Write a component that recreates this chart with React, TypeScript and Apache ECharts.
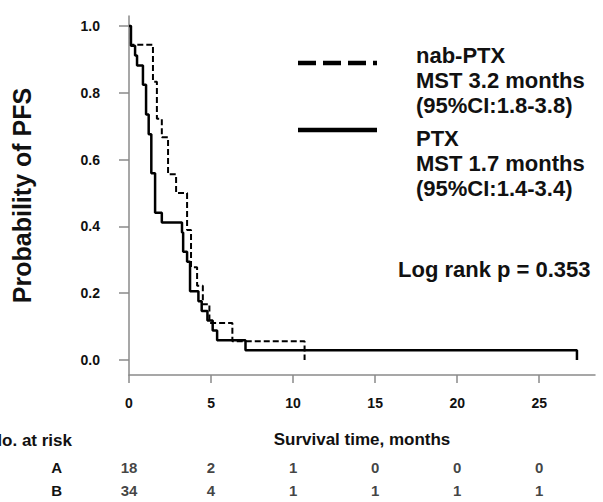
import React, { useEffect, useRef } from "react";
import * as echarts from "echarts";

// ---- data ----
const nabTimes = [0, 0.12, 1.46, 1.7, 2.0, 2.38, 2.87, 3.54, 3.78, 4.15, 4.5, 4.9, 6.3, 10.7];
const nabSurv = [1, 0.944, 0.833, 0.722, 0.667, 0.556, 0.5, 0.389, 0.278, 0.222, 0.167, 0.111, 0.056, 0];

const ptxTimes = [0, 0.12, 0.37, 0.49, 0.85, 1.04, 1.2, 1.36, 1.59, 2.0, 3.23, 3.3, 3.54, 3.72, 4.23, 4.43, 4.78, 5.1, 5.37, 7.1, 27.3];
const ptxSurv = [1, 0.941, 0.912, 0.882, 0.824, 0.735, 0.676, 0.559, 0.441, 0.412, 0.382, 0.324, 0.294, 0.206, 0.176, 0.147, 0.118, 0.088, 0.059, 0.029, 0];

const xTicks = [0, 5, 10, 15, 20, 25];
const yTicks = [0, 0.2, 0.4, 0.6, 0.8, 1.0];

const riskGroups = ["A", "B"];
const riskTimes = [0, 5, 10, 15, 20, 25];
const riskA = [18, 2, 1, 0, 0, 0];
const riskB = [34, 4, 1, 1, 1, 1];

const legendNab = ["nab-PTX", "MST 3.2 months", "(95%CI:1.8-3.8)"];
const legendPtx = ["PTX", "MST 1.7 months", "(95%CI:1.4-3.4)"];
const logRankText = "Log rank p = 0.353";
const riskTitle = "No. at risk";
const xName = "Survival time, months";
const yName = "Probability of PFS";

const FONT = '"Liberation Sans", Arial, Helvetica, sans-serif';
const AXIS_COLOR = "#8a8a8a";
const TEXT_COLOR = "#111";

export default function App() {
  const ref = useRef<HTMLDivElement>(null);

  useEffect(() => {
    const chart = echarts.init(ref.current!, null, { renderer: "svg" });
    const axisLineStyle = { color: AXIS_COLOR, width: 1.5 };
    const labelStyle = { fontSize: 14, fontWeight: "bold", color: TEXT_COLOR, fontFamily: FONT };
    const riskStyle = { fontSize: 15, fontWeight: "bold", color: TEXT_COLOR, fontFamily: FONT };

    const riskData: any[] = [];
    riskA.forEach((v, i) => riskData.push([riskTimes[i], riskGroups[0], v]));
    riskB.forEach((v, i) => riskData.push([riskTimes[i], riskGroups[1], v]));

    const bigText = { fontSize: 22, fontWeight: "bold", fill: TEXT_COLOR, fontFamily: FONT };

    const option: any = {
      animation: false,
      backgroundColor: "#ffffff",
      grid: [
        { left: 129, right: 8, top: 16, bottom: 127 },
        { left: 129, right: 8, top: 455.5, height: 46 },
      ],
      xAxis: [
        {
          type: "value",
          gridIndex: 0,
          min: 0,
          max: 28.4,
          axisLine: { show: true, onZero: false, lineStyle: axisLineStyle },
          axisTick: { show: true, length: 8, customValues: xTicks, lineStyle: axisLineStyle },
          axisLabel: { customValues: xTicks, margin: 21, ...labelStyle },
          splitLine: { show: false },
          name: xName,
          nameLocation: "middle",
          nameGap: 56,
          nameTextStyle: { fontSize: 17, fontWeight: "bold", color: TEXT_COLOR, fontFamily: FONT },
        },
        { type: "value", gridIndex: 1, min: 0, max: 28.4, show: false },
      ],
      yAxis: [
        {
          type: "value",
          gridIndex: 0,
          min: -0.045,
          max: 1.03,
          axisLine: { show: true, onZero: false, lineStyle: axisLineStyle },
          axisTick: { show: true, length: 10, customValues: yTicks, lineStyle: axisLineStyle },
          axisLabel: {
            customValues: yTicks,
            formatter: (v: number) => v.toFixed(1),
            margin: 29,
            ...labelStyle,
          },
          splitLine: { show: false },
          name: yName,
          nameLocation: "middle",
          nameGap: 95,
          nameRotate: 90,
          nameTextStyle: { fontSize: 25, fontWeight: "bold", color: TEXT_COLOR, fontFamily: FONT },
        },
        {
          type: "category",
          gridIndex: 1,
          data: riskGroups,
          inverse: true,
          axisLine: { show: false },
          axisTick: { show: false },
          axisLabel: { margin: 67, ...riskStyle },
          splitLine: { show: false },
        },
      ],
      series: [
        {
          type: "line",
          name: "PTX",
          xAxisIndex: 0,
          yAxisIndex: 0,
          step: "end",
          symbol: "none",
          data: ptxTimes.map((t, i) => [t, ptxSurv[i]]),
          lineStyle: { color: "#000", width: 2.5 },
          z: 3,
        },
        {
          type: "line",
          name: "nab-PTX",
          xAxisIndex: 0,
          yAxisIndex: 0,
          step: "end",
          symbol: "none",
          data: nabTimes.map((t, i) => [t, nabSurv[i]]),
          lineStyle: { color: "#000", width: 2, type: [6, 3] },
          z: 4,
        },
        {
          type: "scatter",
          xAxisIndex: 1,
          yAxisIndex: 1,
          symbolSize: 1,
          itemStyle: { color: "rgba(0,0,0,0)" },
          data: riskData,
          label: {
            show: true,
            position: "inside",
            formatter: (p: any) => String(p.value[2]),
            ...riskStyle,
          },
        },
      ],
      graphic: [
        {
          type: "line",
          shape: { x1: 298, y1: 63, x2: 377, y2: 63 },
          style: { stroke: "#000", lineWidth: 4.5, lineDash: [18, 7] },
        },
        {
          type: "line",
          shape: { x1: 298, y1: 130, x2: 377, y2: 130 },
          style: { stroke: "#000", lineWidth: 4.5 },
        },
        {
          type: "text",
          x: 416,
          y: 42.5,
          style: { text: legendNab.join("\n"), lineHeight: 25, verticalAlign: "top", align: "left", ...bigText },
        },
        {
          type: "text",
          x: 416,
          y: 125.5,
          style: { text: legendPtx.join("\n"), lineHeight: 25, verticalAlign: "top", align: "left", ...bigText },
        },
        {
          type: "text",
          x: 398,
          y: 269,
          style: { text: logRankText, verticalAlign: "middle", align: "left", ...bigText },
        },
        {
          type: "text",
          x: 72,
          y: 440,
          style: {
            text: riskTitle,
            verticalAlign: "middle",
            align: "right",
            fontSize: 17,
            fontWeight: "bold",
            fill: TEXT_COLOR,
            fontFamily: FONT,
          },
        },
      ],
    };

    chart.setOption(option);
    return () => chart.dispose();
  }, []);

  return (
    <div
      ref={ref}
      style={{ position: "fixed", left: 0, top: 0, width: 603, height: 502, background: "#fff" }}
    />
  );
}
